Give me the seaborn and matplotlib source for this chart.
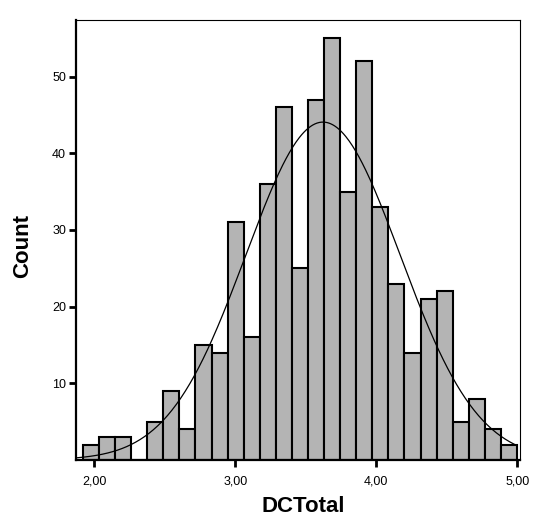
import numpy as np
import pandas as pd
import matplotlib
matplotlib.use("Agg")
import matplotlib.pyplot as plt
import seaborn as sns

# bin edges and counts (27 bins)
bin_start = 1.92
bin_width = 0.114
counts = [2, 3, 3, 0, 5, 9, 4, 15, 14, 31, 16, 36, 46, 25, 47,
          55, 35, 52, 33, 23, 14, 21, 22, 5, 8, 4, 2]
x_ticks = [2.0, 3.0, 4.0, 5.0]
x_tick_labels = ["2,00", "3,00", "4,00", "5,00"]
y_ticks = [10, 20, 30, 40, 50]

edges = bin_start + bin_width * np.arange(len(counts) + 1)
centers = (edges[:-1] + edges[1:]) / 2
df = pd.DataFrame({"DCTotal": centers, "n": counts})

sns.set_style("ticks")
plt.rcParams['font.family'] = ['Liberation Sans', 'DejaVu Sans']
plt.rcParams['text.color'] = 'black'
plt.rcParams['axes.labelcolor'] = 'black'
plt.rcParams['xtick.color'] = 'black'
plt.rcParams['ytick.color'] = 'black'

fig = plt.figure(figsize=(5.34, 5.22), dpi=100)
ax = fig.add_axes([0.142, 0.119, 0.832, 0.843])

sns.histplot(data=df, x="DCTotal", weights="n", bins=edges.tolist(), ax=ax,
             color="#b4b4b4", edgecolor="black", linewidth=1.5, alpha=1)

# normal curve from the weighted mean / sd of the data
mu = np.average(centers, weights=counts)
sd = np.sqrt(np.average((centers - mu) ** 2, weights=counts))
xs = np.linspace(1.87, 5.0, 400)
ys = sum(counts) * bin_width * np.exp(-0.5 * ((xs - mu) / sd) ** 2) / (sd * np.sqrt(2 * np.pi))
sns.lineplot(x=xs, y=ys, ax=ax, color="black", linewidth=0.9)

ax.set_xlim(1.87, 5.02)
ax.set_ylim(0, 57.4)
ax.set_xticks(x_ticks)
ax.set_xticklabels(x_tick_labels, fontsize=9)
ax.set_yticks(y_ticks)
ax.set_yticklabels([str(t) for t in y_ticks], fontsize=9)
ax.tick_params(axis="both", direction="out", length=5, width=2,
               color="black", labelcolor="black")
ax.tick_params(axis="y", pad=2)
ax.tick_params(axis="x", pad=6)

for side in ["left", "bottom"]:
    ax.spines[side].set_linewidth(1.6)
    ax.spines[side].set_color("black")
for side in ["top", "right"]:
    ax.spines[side].set_visible(True)
    ax.spines[side].set_linewidth(0.8)
    ax.spines[side].set_color("black")

ax.set_xlabel("DCTotal", fontsize=16, fontweight="bold", color="black")
ax.set_ylabel("Count", fontsize=16, fontweight="bold", color="black")
ax.xaxis.set_label_coords(0.513, -0.083)
ax.yaxis.set_label_coords(-0.097, 0.486)

fig.savefig("out.png", dpi=100)
